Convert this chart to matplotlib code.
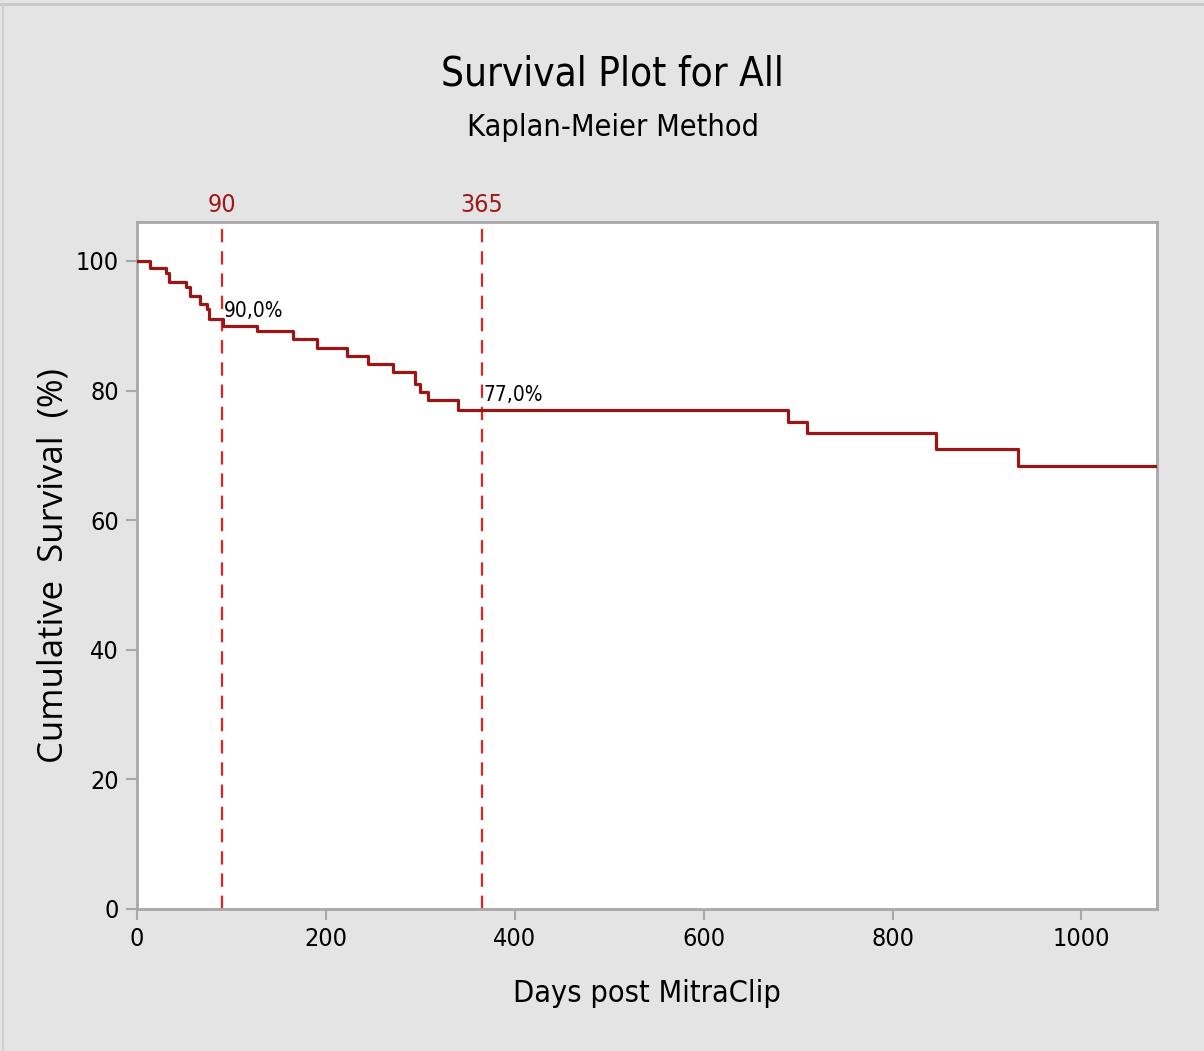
import matplotlib
matplotlib.use("Agg")
import matplotlib.pyplot as plt
from matplotlib import font_manager

# ---------------------------------------------------------------------------
# Dados
# ---------------------------------------------------------------------------
# tempos (dias) em que a curva de Kaplan-Meier cai, e nivel apos cada queda
tempos = [0, 14, 31, 34, 52, 56, 67, 74, 76, 91, 127, 165, 191, 222, 245,
          271, 294, 300, 308, 340, 689, 709, 846, 933]
sobrevida = [100.0, 98.9, 98.2, 96.8, 96.0, 94.6, 93.4, 92.5, 91.1, 90.0,
             89.2, 87.9, 86.6, 85.3, 84.1, 82.8, 81.0, 79.8, 78.5, 77.0,
             75.1, 73.5, 70.9, 68.3]
t_final = 1080

marcos = [90, 365]
marcos_txt = ["90,0%", "77,0%"]
marcos_y = [90.0, 77.0]

x_ticks = [0, 200, 400, 600, 800, 1000]
y_ticks = [0, 20, 40, 60, 80, 100]

# ---------------------------------------------------------------------------
# Estilo
# ---------------------------------------------------------------------------
condensadas = [f for f in font_manager.fontManager.ttflist
               if f.name == "DejaVu Sans" and f.stretch == "condensed"]
if condensadas:
    FONTE = dict(family="DejaVu Sans", stretch="condensed")
else:
    FONTE = dict(family="Roboto")

BG = "#e4e4e4"
CURVA = "#9b1515"
TRACO = "#dd2222"
MARCO_TXT = "#a01818"
EIXO = "#a8a8a8"

fig = plt.figure(figsize=(12.04, 10.51), dpi=100, facecolor=BG)
ax = fig.add_axes([137 / 1204, 1 - 909 / 1051, (1157 - 137) / 1204, (909 - 222) / 1051])
ax.set_facecolor("white")

xs = tempos + [t_final]
ys = sobrevida + [sobrevida[-1]]
ax.step(xs, ys, where="post", color=CURVA, linewidth=2.3, zorder=3)

for xm, txt, ym in zip(marcos, marcos_txt, marcos_y):
    ax.axvline(xm, color=TRACO, linewidth=1.6, linestyle=(0, (6, 4)), zorder=2)
    ax.text(xm + 2, ym + 0.8, txt, fontsize=15, ha="left", va="bottom",
            color="black", zorder=4, **FONTE)
    ax.text(xm, 106.8, str(xm), fontsize=18, color=MARCO_TXT,
            ha="center", va="bottom", clip_on=False, **FONTE)

ax.set_xlim(0, t_final)
ax.set_ylim(0, 106)
ax.set_xticks(x_ticks)
ax.set_yticks(y_ticks)
ax.tick_params(axis="both", direction="out", length=8, width=1.5, color=EIXO,
               labelsize=18, pad=5)
for lab in ax.get_xticklabels() + ax.get_yticklabels():
    lab.set_fontfamily(FONTE["family"])
    if "stretch" in FONTE:
        lab.set_fontstretch(FONTE["stretch"])

for s in ax.spines.values():
    s.set_color(EIXO)
    s.set_linewidth(2.0)

ax.set_xlabel("Days post MitraClip", fontsize=22, labelpad=20, **FONTE)
ax.set_ylabel("Cumulative  Survival  (%)", fontsize=25, family="Open Sans",
              labelpad=4)

fig.text(0.509, 1 - 75 / 1051, "Survival Plot for All", fontsize=29,
         ha="center", va="center", **FONTE)
fig.text(0.509, 1 - 128 / 1051, "Kaplan-Meier Method", fontsize=22,
         ha="center", va="center", **FONTE)

# moldura cinza no topo / esquerda
fig.add_artist(plt.Line2D([0, 1], [1 - 4 / 1051] * 2, color="#c8c8c8", linewidth=2,
                          transform=fig.transFigure))
fig.add_artist(plt.Line2D([3 / 1204] * 2, [0, 1 - 4 / 1051], color="#cfcfcf", linewidth=1.5,
                          transform=fig.transFigure))

fig.savefig("out.png", dpi=100, facecolor=BG)
